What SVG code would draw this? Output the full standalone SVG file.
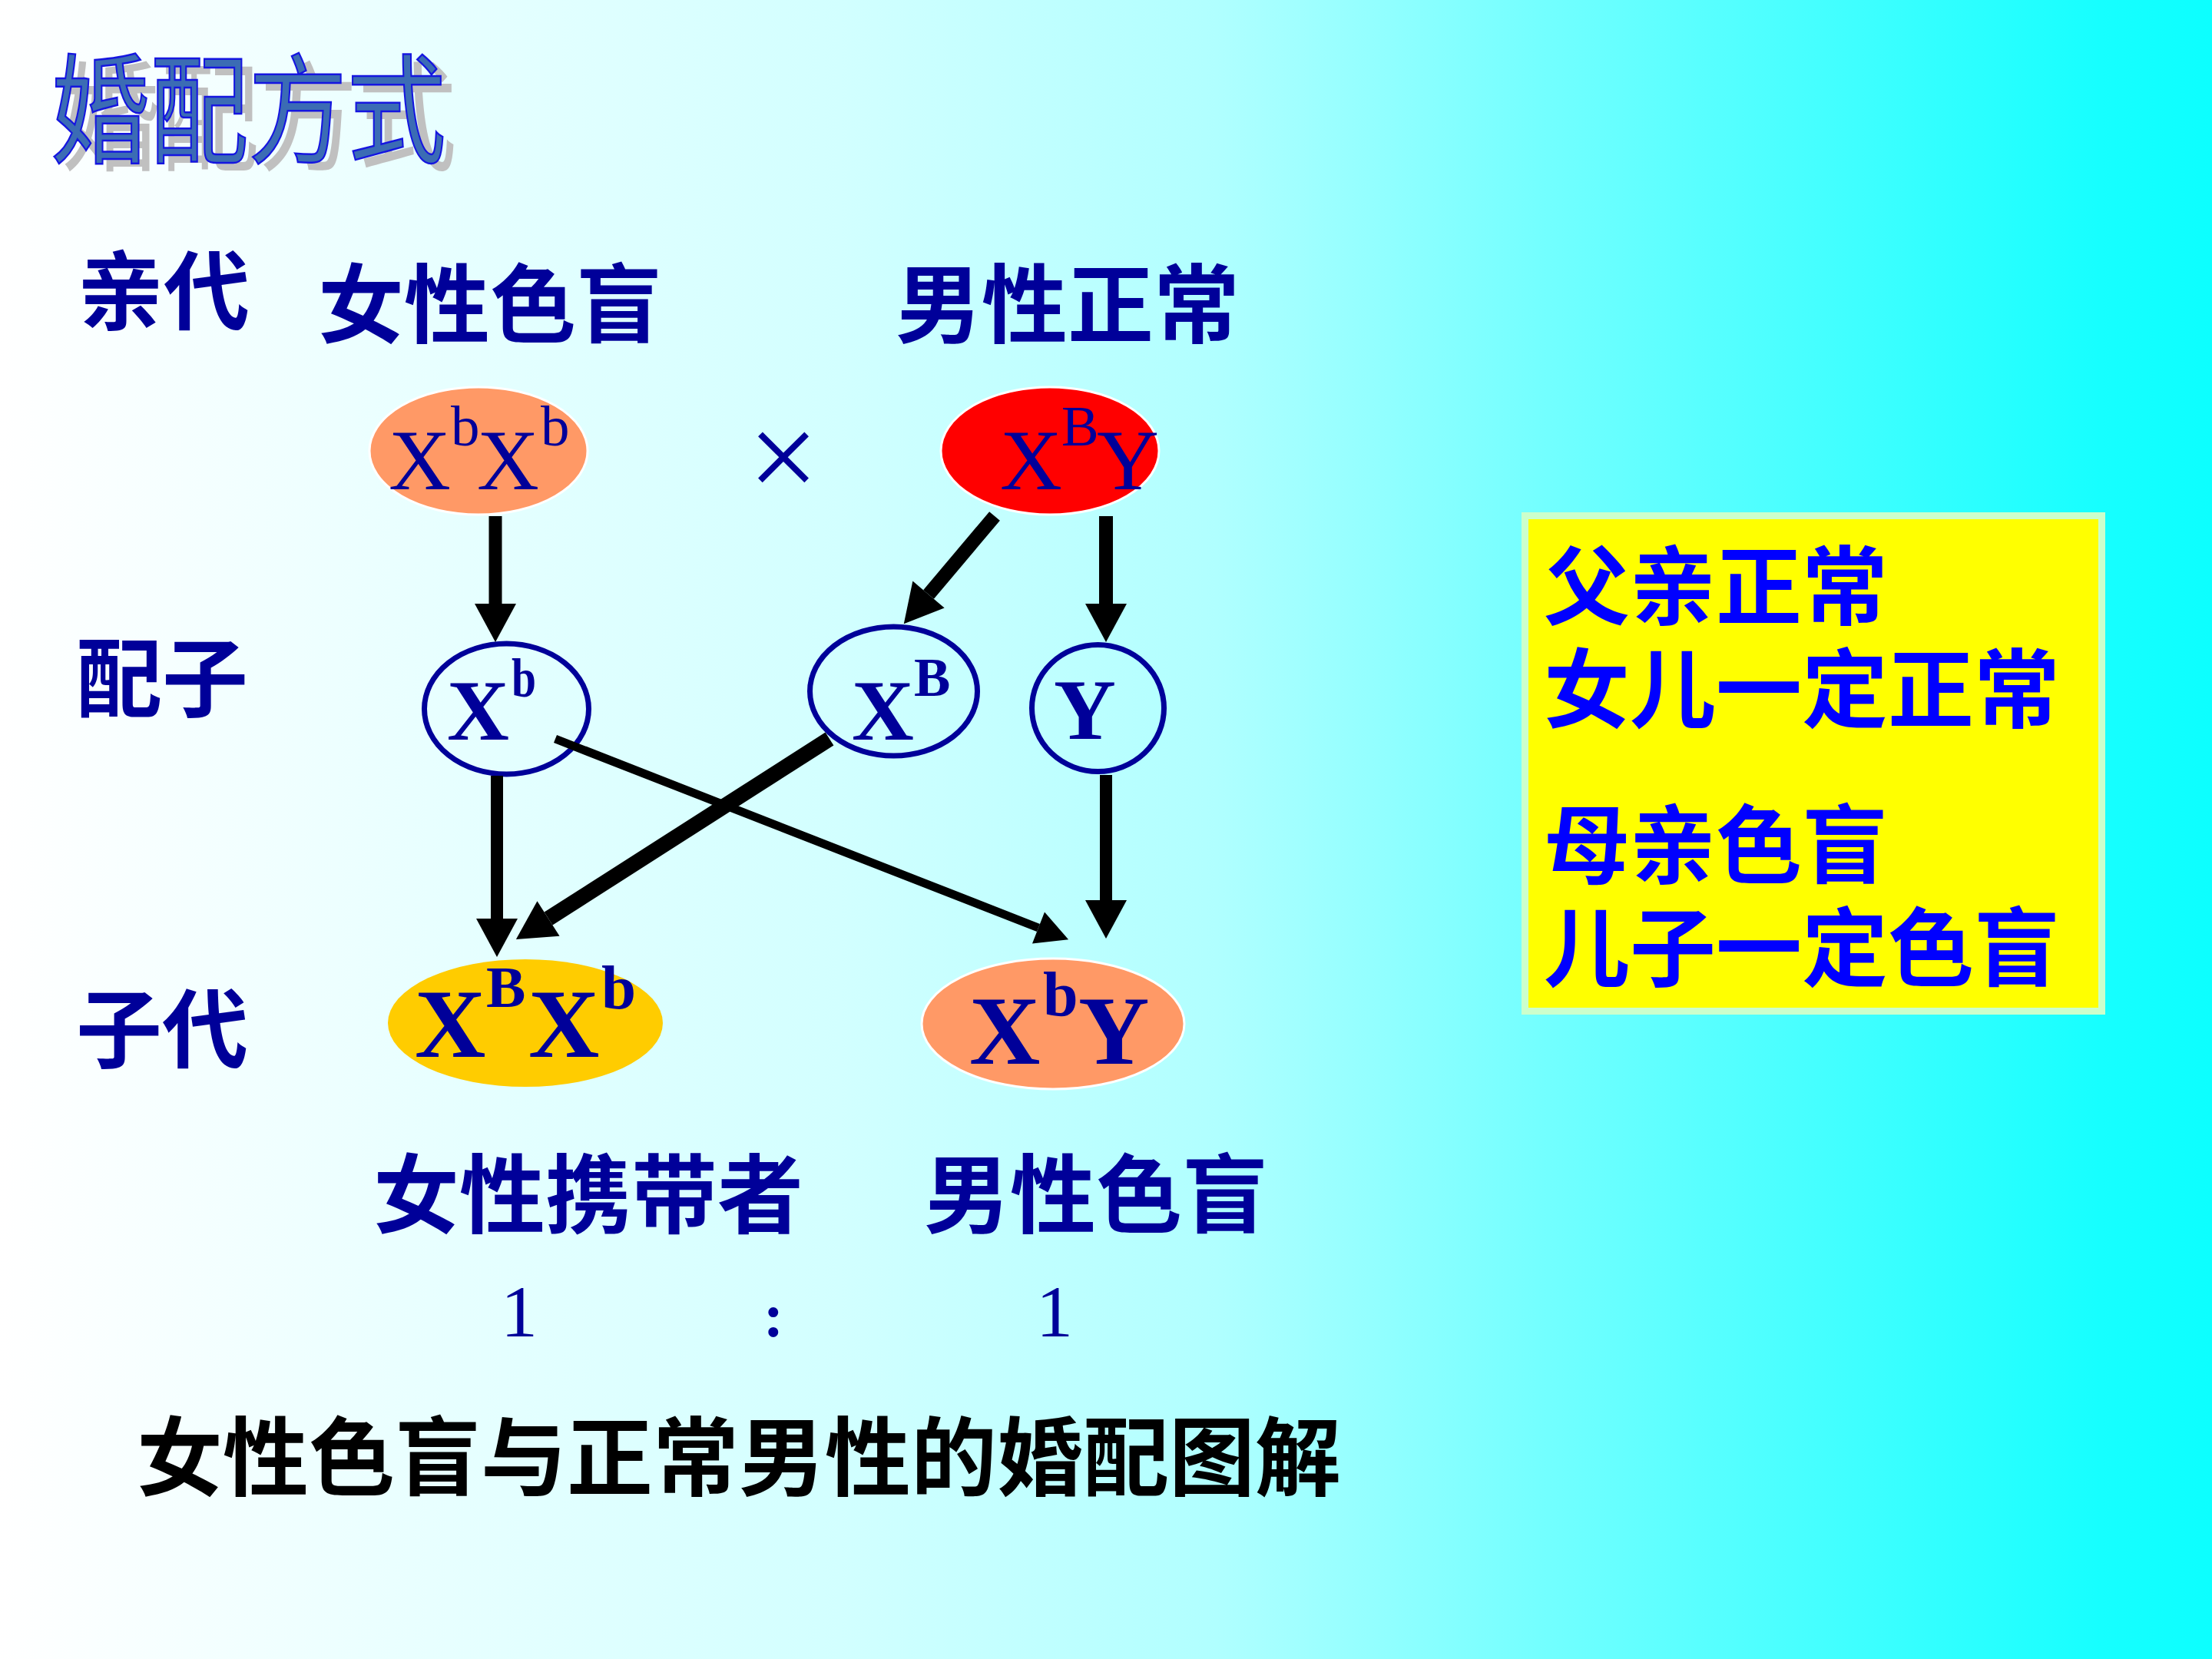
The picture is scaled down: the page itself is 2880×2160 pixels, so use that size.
<svg xmlns="http://www.w3.org/2000/svg" width="2880" height="2160" viewBox="0 0 2880 2160">
<defs>
<linearGradient id="bg" x1="0" y1="0" x2="1" y2="0">
<stop offset="0" stop-color="#FFFFFF"/>
<stop offset="0.38" stop-color="#D2FFFF"/>
<stop offset="0.55" stop-color="#B0FFFF"/>
<stop offset="0.70" stop-color="#72FFFF"/>
<stop offset="0.95" stop-color="#16FFFF"/>
<stop offset="1" stop-color="#0CFFFF"/>
</linearGradient>
<marker id="head" markerUnits="userSpaceOnUse" markerWidth="56" markerHeight="56" refX="0" refY="27" orient="auto" overflow="visible">
<path d="M0,0 L50,27 L0,54 z" fill="#000"/>
</marker>
<marker id="headS" markerUnits="userSpaceOnUse" markerWidth="46" markerHeight="46" refX="0" refY="22" orient="auto" overflow="visible">
<path d="M0,0 L42,22 L0,44 z" fill="#000"/>
</marker>
<style>
.cjk{font-family:'Noto Sans CJK SC','Noto Sans CJK JP',sans-serif;font-weight:700;font-size:112px}
.lbl{fill:#000099}
.box{fill:#0000FF}
.cap{fill:#000000}
.gt{font-family:'Liberation Serif','Times New Roman',serif;fill:#000099}
.b{font-weight:700}
.gam{fill:none;stroke:#000099;stroke-width:7}
.par{stroke:#FFFFFF;stroke-width:3}
.con{stroke:#000;fill:none}
</style>
</defs>
<rect x="0" y="0" width="2880" height="2160" fill="url(#bg)"/>

<g id="title" font-family="'Noto Sans CJK SC','Noto Sans CJK JP',sans-serif" font-size="155">
<text transform="translate(80,210) scale(0.83,1)" fill="#C0C0C0">婚配方式</text>
<text transform="translate(66,200) scale(0.83,1)" fill="#3B6CB4" stroke="#1515E0" stroke-width="2.5">婚配方式</text>
</g>

<g id="row-labels" class="cjk lbl">
<text x="101" y="421">亲代</text>
<text x="99" y="925">配子</text>
<text x="99" y="1382">子代</text>
</g>

<g id="parent-labels" class="cjk lbl">
<text x="414" y="438">女性色盲</text>
<text x="1166" y="438">男性正常</text>
</g>

<g id="node-mother">
<ellipse cx="623" cy="587" rx="142" ry="83" fill="#FF9966" class="par"/>
<text class="gt" font-size="112"><tspan x="506" y="637">X</tspan><tspan x="587" y="580" font-size="75">b</tspan><tspan x="621" y="637">X</tspan><tspan x="704" y="580" font-size="75">b</tspan></text>
</g>

<g id="cross">
<text class="gt" x="1020" y="649" font-size="162" text-anchor="middle">×</text>
</g>

<g id="node-father">
<ellipse cx="1367" cy="587" rx="142" ry="83" fill="#FF0000" class="par"/>
<text class="gt" font-size="112"><tspan x="1302" y="637">X</tspan><tspan x="1382" y="580" font-size="73">B</tspan><tspan x="1428" y="637">Y</tspan></text>
</g>

<g id="gamete-Xb">
<ellipse cx="659.5" cy="923" rx="107" ry="85" class="gam"/>
<text class="gt b" font-size="112" x="582" y="963">X</text>
<text class="gt b" font-size="72" x="666" y="907" textLength="32" lengthAdjust="spacingAndGlyphs">b</text>
</g>

<g id="gamete-XB">
<ellipse cx="1163.5" cy="900" rx="109" ry="84" class="gam"/>
<text class="gt b" font-size="112"><tspan x="1109" y="963">X</tspan><tspan x="1190" y="906" font-size="71">B</tspan></text>
</g>

<g id="gamete-Y">
<ellipse cx="1429.5" cy="922" rx="86" ry="82.5" class="gam"/>
<text class="gt b" font-size="112"><tspan x="1372" y="962">Y</tspan></text>
</g>

<g id="child-daughter">
<ellipse cx="684" cy="1332" rx="179" ry="83" fill="#FFCC00"/>
<text class="gt b" font-size="128"><tspan x="540" y="1376">X</tspan><tspan x="633" y="1311" font-size="77">B</tspan><tspan x="688" y="1376">X</tspan><tspan x="783" y="1313" font-size="81">b</tspan></text>
</g>

<g id="child-son">
<ellipse cx="1371" cy="1333" rx="171" ry="85" fill="#FF9966" class="par"/>
<text class="gt b" font-size="128"><tspan x="1262" y="1385">X</tspan><tspan x="1358" y="1322" font-size="82">b</tspan><tspan x="1404" y="1385">Y</tspan></text>
</g>

<g id="connectors">
<line class="con" x1="645" y1="672" x2="645" y2="786" stroke-width="17" marker-end="url(#head)"/>
<line class="con" x1="1295" y1="672" x2="1209" y2="774" stroke-width="18" marker-end="url(#head)"/>
<line class="con" x1="1440" y1="672" x2="1440" y2="786" stroke-width="18" marker-end="url(#head)"/>
<line class="con" x1="647" y1="1010" x2="647" y2="1196" stroke-width="16" marker-end="url(#head)"/>
<line class="con" x1="1080" y1="962" x2="714" y2="1196" stroke-width="20" marker-end="url(#head)"/>
<line class="con" x1="723" y1="962" x2="1352" y2="1208" stroke-width="11" marker-end="url(#headS)"/>
<line class="con" x1="1440" y1="1009" x2="1440" y2="1172" stroke-width="16" marker-end="url(#head)"/>
</g>

<g id="child-labels" class="cjk lbl">
<text x="486" y="1597">女性携带者</text>
<text x="1203" y="1597">男性色盲</text>
</g>

<g id="ratio" class="gt" font-size="96">
<text x="676" y="1740" text-anchor="middle">1</text>
<text x="1007" y="1740" text-anchor="middle" font-size="80" font-weight="700">:</text>
<text x="1373" y="1740" text-anchor="middle">1</text>
</g>

<g id="note-box">
<rect x="1985.5" y="671.5" width="751" height="645" fill="#FFFF00" stroke="#CCFFCC" stroke-width="9"/>
<g class="cjk box">
<text x="2010" y="805">父亲正常</text>
<text x="2010" y="939">女儿一定正常</text>
<text x="2010" y="1142">母亲色盲</text>
<text x="2010" y="1276">儿子一定色盲</text>
</g>
</g>

<g id="caption" class="cjk cap">
<text x="178" y="1939">女性色盲与正常男性的婚配图解</text>
</g>
</svg>
